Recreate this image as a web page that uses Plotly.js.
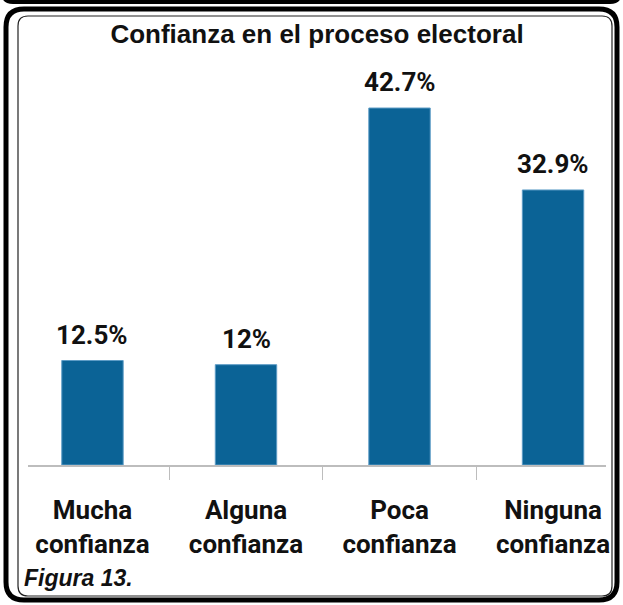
<!DOCTYPE html>
<html>
<head>
<meta charset="utf-8">
<script src="https://cdn.plot.ly/plotly-3.0.1.min.js"></script>
<style>
html,body{margin:0;padding:0;background:#fff;}
#chart{width:623px;height:605px;}
</style>
</head>
<body>
<div id="chart"></div>
<script>
// ---- data ----
const categories = ["Mucha<br>confianza", "Alguna<br>confianza", "Poca<br>confianza", "Ninguna<br>confianza"];
const values = [12.5, 12, 42.7, 32.9];
const valueLabels = ["12.5%", "12%", "42.7%", "32.9%"];
const chartTitle = "Confianza en el proceso electoral";
const figureNote = "Figura 13.";

// ---- layout geometry ----
const W = 623, H = 605;
const M = {l: 28, r: 17, t: 60, b: 140};
const PW = W - M.l - M.r, PH = H - M.t - M.b;
const px = x => (x - M.l) / PW;
const py = y => 1 - (y - M.t) / PH;

function roundRect(x0, y0, x1, y1, r) {
  const X = v => px(v), Y = v => py(v);
  return `M${X(x0 + r)},${Y(y0)} L${X(x1 - r)},${Y(y0)} Q${X(x1)},${Y(y0)} ${X(x1)},${Y(y0 + r)} ` +
         `L${X(x1)},${Y(y1 - r)} Q${X(x1)},${Y(y1)} ${X(x1 - r)},${Y(y1)} ` +
         `L${X(x0 + r)},${Y(y1)} Q${X(x0)},${Y(y1)} ${X(x0)},${Y(y1 - r)} ` +
         `L${X(x0)},${Y(y0 + r)} Q${X(x0)},${Y(y0)} ${X(x0 + r)},${Y(y0)} Z`;
}

const narrow = 'Roboto, "Liberation Sans", sans-serif';

const trace = {
  type: 'bar',
  x: categories,
  y: values,
  marker: {color: '#0b6396', line: {color: '#5d9cc6', width: 1}},
  hoverinfo: 'none'
};

const annotations = categories.map((c, i) => ({
  x: c, y: values[i], xref: 'x', yref: 'y',
  text: valueLabels[i], showarrow: false,
  yanchor: 'bottom', yshift: 9,
  font: {family: narrow, size: 26, color: '#111', weight: 'bold'}
}));

annotations.push({
  xref: 'paper', yref: 'paper', x: px(22), y: py(593),
  xanchor: 'left', yanchor: 'bottom',
  text: '<b><i>' + figureNote + '</i></b>', showarrow: false,
  font: {family: '"Liberation Sans", Arial, sans-serif', size: 23, color: '#111'}
});

const layout = {
  width: W, height: H,
  margin: M,
  paper_bgcolor: '#fff', plot_bgcolor: '#fff',
  showlegend: false,
  bargap: 0.6,
  title: {
    text: '<b>' + chartTitle + '</b>',
    font: {family: '"Liberation Sans", Arial, sans-serif', size: 26, color: '#111'},
    x: 0.5, xanchor: 'center', xref: 'paper',
    y: 1 - 34 / H, yanchor: 'middle', yref: 'container'
  },
  xaxis: {
    type: 'category',
    range: [-0.42, 3.345],
    showline: true, linecolor: '#bdbdbd', linewidth: 1.5,
    ticks: 'outside', tickson: 'boundaries', ticklen: 13, tickcolor: '#bdbdbd', tickwidth: 1,
    showgrid: false, zeroline: false,
    tickfont: {family: narrow, size: 26, color: '#111', weight: 'bold'},
    ticklabelstandoff: 21,
    fixedrange: true
  },
  yaxis: {
    range: [0, PH / 8.36],
    visible: false, showgrid: false, zeroline: false, fixedrange: true
  },
  annotations: annotations,
  shapes: [
    {type: 'path', xref: 'paper', yref: 'paper', path: roundRect(3, -10, 620, 2, 10),
     line: {color: '#000', width: 4}, fillcolor: 'rgba(0,0,0,0)', layer: 'above'},
    {type: 'path', xref: 'paper', yref: 'paper', path: roundRect(6, 9, 617, 600, 18),
     line: {color: '#000', width: 5}, fillcolor: 'rgba(0,0,0,0)', layer: 'above'},
    {type: 'path', xref: 'paper', yref: 'paper', path: roundRect(18, 16, 612, 596, 10),
     line: {color: '#222', width: 1.2}, fillcolor: 'rgba(0,0,0,0)', layer: 'above'}
  ]
};

Plotly.newPlot('chart', [trace], layout, {displayModeBar: false, staticPlot: true});
</script>
</body>
</html>
